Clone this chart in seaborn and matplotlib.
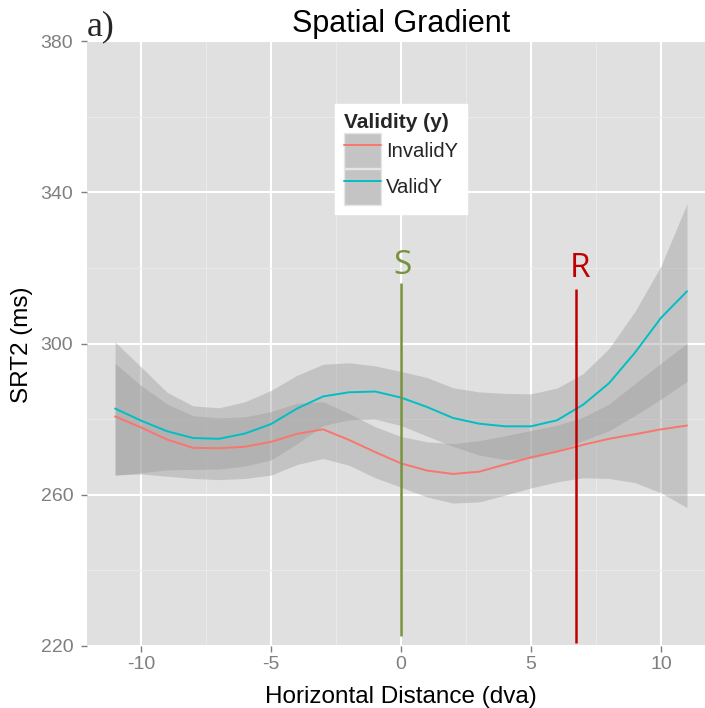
import numpy as np
import pandas as pd
import matplotlib
matplotlib.use("Agg")
import matplotlib.pyplot as plt
import seaborn as sns
from matplotlib.patches import Patch
from matplotlib.lines import Line2D

# ---------------- data ----------------
x_dva = [-11, -10, -9, -8, -7, -6, -5, -4, -3, -2, -1, 0, 1, 2, 3, 4, 5, 6, 7, 8, 9, 10, 11]

invalid_fit = [280.7, 277.8, 274.6, 272.4, 272.3, 272.7, 274.0, 276.1, 277.3, 274.5, 271.3, 268.3, 266.4,
               265.5, 266.1, 268.0, 269.9, 271.4, 273.2, 274.8, 276.0, 277.3, 278.3]
invalid_lo = [265.2, 265.5, 264.9, 264.3, 264.0, 264.3, 265.2, 268.0, 269.6, 267.8, 264.5, 262.0, 259.4,
              257.8, 258.1, 259.9, 261.8, 263.4, 264.5, 264.3, 263.2, 260.5, 256.6]
invalid_hi = [294.7, 288.9, 284.0, 280.9, 280.3, 280.6, 282.0, 284.2, 284.6, 281.5, 278.0, 275.4, 274.0,
              273.5, 274.3, 275.6, 277.0, 278.4, 280.5, 284.0, 289.4, 294.8, 300.0]

valid_fit = [282.8, 279.6, 276.8, 275.0, 274.8, 276.2, 278.7, 282.8, 286.0, 287.1, 287.3, 285.7, 283.2,
             280.3, 278.8, 278.1, 278.1, 279.7, 283.8, 289.5, 297.6, 306.8, 313.8]
valid_lo = [265.2, 265.8, 266.6, 266.7, 266.8, 267.6, 269.2, 273.5, 278.3, 279.8, 280.0, 278.3, 275.5,
            272.8, 270.5, 269.3, 269.6, 271.5, 274.3, 276.9, 281.0, 285.3, 290.0]
valid_hi = [300.4, 293.8, 287.1, 283.5, 283.0, 284.6, 287.6, 291.6, 294.5, 294.9, 294.1, 292.6, 291.0,
            288.3, 287.2, 286.8, 286.7, 288.2, 292.0, 298.7, 308.5, 320.5, 337.0]

groups = ["InvalidY", "ValidY"]
group_colors = ["#F8766D", "#00BFC4"]

x_ticks = [-10, -5, 0, 5, 10]
x_tick_labels = ["-10", "-5", "0", "5", "10"]
y_ticks = [220, 260, 300, 340, 380]
y_tick_labels = ["220", "260", "300", "340", "380"]

S_X, S_Y0, S_Y1 = 0.0, 222.6, 316.0
R_X, R_Y0, R_Y1 = 6.72, 220.8, 314.4

# ---------------- build table ----------------
frames = []
for g, fit, lo, hi in [("InvalidY", invalid_fit, invalid_lo, invalid_hi),
                       ("ValidY", valid_fit, valid_lo, valid_hi)]:
    frames.append(pd.DataFrame({"x": x_dva, "fit": fit, "lo": lo, "hi": hi, "Validity (y)": g}))
df = pd.concat(frames, ignore_index=True)

# ---------------- style ----------------
sns.set_style("darkgrid")
plt.rcParams["font.family"] = ["Liberation Sans", "DejaVu Sans"]

W, H = 705, 708
fig = plt.figure(figsize=(W / 100, H / 100), dpi=100)
ax_left, ax_right, ax_top, ax_bottom = 86.5, 715.6, 41, 646
ax = fig.add_axes([ax_left / W, 1 - ax_bottom / H, (ax_right - ax_left) / W, (ax_bottom - ax_top) / H])
ax.set_facecolor("#E0E0E0")

for g, col in zip(groups, group_colors):
    sub = df[df["Validity (y)"] == g]
    ax.fill_between(sub["x"], sub["lo"], sub["hi"], color="#999999", alpha=0.4, lw=0, zorder=2)
    sns.lineplot(data=sub, x="x", y="fit", color=col, lw=1.4, ax=ax, legend=False,
                 errorbar=None, zorder=3)

# annotations S and R
ax.plot([S_X, S_X], [S_Y0, S_Y1], color="#76923C", lw=1.8, zorder=4, solid_capstyle="butt")
ax.plot([R_X, R_X], [R_Y0, R_Y1], color="#C00000", lw=1.8, zorder=4, solid_capstyle="butt")
ax.text(S_X + 0.05, 318.3, "S", color="#76923C", fontsize=24, ha="center", va="baseline",
        family=["Open Sans", "DejaVu Sans"], zorder=5)
ax.text(R_X + 0.15, 317.6, "R", color="#C00000", fontsize=24, ha="center", va="baseline",
        family=["Open Sans", "DejaVu Sans"], zorder=5)

# axes, grid
ax.set_xlim(-12.1, 12.1)
ax.set_ylim(220, 380)
ax.set_xticks(x_ticks)
ax.set_xticklabels(x_tick_labels)
ax.set_yticks(y_ticks)
ax.set_yticklabels(y_tick_labels)
ax.set_xticks([-7.5, -2.5, 2.5, 7.5], minor=True)
ax.set_yticks([240, 280, 320, 360], minor=True)
ax.set_axisbelow(True)
ax.grid(which="major", color="white", lw=1.5)
ax.grid(which="minor", color="#EBEBEB", lw=0.7)
for s in ax.spines.values():
    s.set_visible(False)
ax.tick_params(which="major", length=4.5, width=1.0, color="#7F7F7F", labelcolor="#7F7F7F",
               labelsize=14, bottom=True, left=True)
ax.tick_params(axis="x", pad=2.5)
ax.tick_params(axis="y", pad=5.0)
ax.tick_params(which="minor", length=0)

ax.set_xlabel("Horizontal Distance (dva)", fontsize=17.5, color="black")
ax.set_ylabel("SRT2 (ms)", fontsize=17.5, color="black")
ax.xaxis.label.set_va("baseline")
ax.xaxis.set_label_coords((401 - ax_left) / (ax_right - ax_left), -(703 - ax_bottom) / (ax_bottom - ax_top))
ax.yaxis.label.set_va("baseline")
ax.yaxis.set_label_coords((28 - ax_left) / (ax_right - ax_left), (ax_bottom - 345) / (ax_bottom - ax_top))

ax.set_title("Spatial Gradient", fontsize=22, color="black", pad=6.5)

fig.text(87 / W, 1 - 35 / H, "a)", fontsize=26, va="baseline", ha="left",
         family=["Liberation Serif", "DejaVu Serif"])

# legend
handles = []
for col in group_colors:
    handles.append((Patch(facecolor="#C4C4C4", edgecolor="#E6E6E6", lw=1.0),
                    Line2D([0], [0], color=col, lw=1.4)))
leg = ax.legend(handles, groups, title="Validity (y)", loc="upper left",
                bbox_to_anchor=(335 / W, 1 - 104 / H), bbox_transform=fig.transFigure,
                fontsize=14.6, title_fontproperties={"weight": "bold", "size": 15},
                frameon=True, fancybox=False, framealpha=1, borderpad=0.45,
                handlelength=1.8, handleheight=2.35, handletextpad=0.25, labelspacing=0.02,
                borderaxespad=0, alignment="left")
leg.get_frame().set_facecolor("white")
leg.get_frame().set_edgecolor("white")

fig.savefig("out.png", dpi=100)
